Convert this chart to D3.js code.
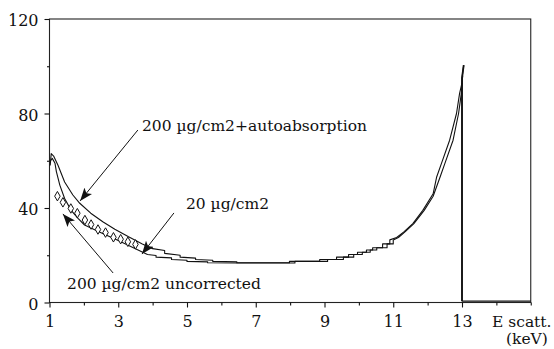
<!DOCTYPE html>
<html><head><meta charset="utf-8">
<script src="https://cdn.jsdelivr.net/npm/d3@7"></script>
<style>
html,body{margin:0;padding:0;background:#fff;}
svg{display:block;}
text{font-family:"DejaVu Serif",serif;fill:#111;}
</style></head>
<body>
<svg id="chart" width="554" height="349"></svg>
<script>
// ---- data ----
const xMajorTicks = [1, 3, 5, 7, 9, 11, 13];
const xMinorTicks = [2, 4, 6, 8, 10, 12, 14, 15];
const yMajorTicks = [0, 40, 80, 120];
const yMinorTicks = [20, 60, 100];

// 200 µg/cm2 + autoabsorption (upper line)
const autoX = [1.02,1.05,1.12,1.25,1.44,1.68,1.88,2.2,2.55,2.9,3.3,3.7,4.0,4.35,4.35,4.8,4.8,5.25,5.25,5.75,5.75,6.45,6.45,7.98,7.98,8.86,8.86,9.35,9.35,9.7,9.7,9.96,9.96,10.22,10.22,10.4,10.4,10.69,10.69,10.9,10.9,11.1,11.3,11.57,11.86,12.16,12.26,12.4,12.64,12.84,12.93,13.0];
const autoY = [58,63,62,58,51,45.5,42,37.8,34.2,31,27.8,24.8,22.8,22.0,20.8,20.0,19.2,18.8,18.2,17.9,17.4,17.2,16.8,16.8,17.4,17.4,18.2,18.2,19.2,19.2,20.3,20.3,21.3,21.3,22.2,22.2,23.2,23.2,24.8,24.8,26.5,27.5,29.8,33.4,39,46,53,58.8,68.7,80,88.5,93];

// 200 µg/cm2 uncorrected (lower line)
const uncX = [1.03,1.08,1.16,1.2,1.3,1.44,1.63,1.83,2.02,2.5,3.0,3.5,3.85,4.1,4.1,4.55,4.55,5.0,5.0,5.6,5.6,6.45,8.14,8.14,9.09,9.09,9.55,9.55,9.85,9.85,10.1,10.1,10.33,10.33,10.52,10.52,10.82,10.82,11.0,11.0,11.15,11.35,11.6,11.9,12.16,12.36,12.5,12.74,12.9,12.98,13.02];
const uncY = [60,61,58.9,55.4,49.7,44,39,35.6,32.8,29.5,26.2,22.8,20.3,19.9,19.2,18.9,18.2,17.9,17.4,17.2,16.8,16.7,16.7,17.4,17.4,18.2,18.2,19.2,19.2,20.3,20.3,21.3,21.3,22.2,22.2,23.2,23.2,24.8,24.8,26.5,27.5,30,33.4,39,45,53,58.8,68.7,80,88.5,96];

// 20 µg/cm2 (open diamonds)
const thinX = [1.23,1.39,1.62,1.81,2.03,2.21,2.41,2.63,2.86,3.07,3.28,3.5];
const thinY = [45,42.4,39.8,37.8,34.9,33,30.9,29.6,27.6,26.8,25.7,24.6];

// absorption edge line
const edgeX = [13.05, 13.0, 13.0, 15.0];
const edgeY = [100.5, 95, 0.6, 0.6];

// annotations
const annLabels = ["200 \u00b5g/cm2+autoabsorption", "20 \u00b5g/cm2", "200 \u00b5g/cm2 uncorrected"];
const annTextX = [3.69, 4.97, 1.51];
const annTextY = [72.6, 39.5, 5.7];
const annTailX = [3.57, 4.62, 2.85];
const annTailY = [73, 37.9, 12.5];
const annTipX = [1.89, 3.69, 1.39];
const annTipY = [43, 20.5, 37.5];

const xTitle1 = "E scatt.";
const xTitle2 = "(keV)";

// ---- drawing ----
const svg = d3.select("#chart");
const x = d3.scaleLinear().domain([1, 15]).range([49.5, 530.75]);
const y = d3.scaleLinear().domain([0, 120]).range([302.5, 19]);
const ink = "#111";

// frame
svg.append("rect")
  .attr("x", x(1)).attr("y", y(120))
  .attr("width", x(15) - x(1)).attr("height", y(0) - y(120))
  .attr("fill", "none").attr("stroke", "#222").attr("stroke-width", 1.1);

// axes
function styleAxis(g){ g.select(".domain").remove(); g.selectAll("line").attr("stroke", ink).attr("stroke-width",1.1); g.selectAll("text").attr("font-family","DejaVu Serif").attr("font-size",16).attr("fill",ink); }

svg.append("g").attr("transform", `translate(0,${y(0)})`)
  .call(d3.axisBottom(x).tickValues(xMajorTicks).tickSize(5).tickPadding(8).tickFormat(d3.format("d")))
  .call(styleAxis);
svg.append("g").attr("transform", `translate(0,${y(0)})`)
  .call(d3.axisBottom(x).tickValues(xMinorTicks).tickSize(3).tickFormat(""))
  .call(styleAxis);
svg.append("g").attr("transform", `translate(${x(1)},0)`)
  .call(d3.axisLeft(y).tickValues(yMajorTicks).tickSize(5).tickPadding(6).tickFormat(d3.format("d")))
  .call(styleAxis)
  .selectAll("text").attr("dy", "0.42em");
svg.append("g").attr("transform", `translate(${x(1)},0)`)
  .call(d3.axisLeft(y).tickValues(yMinorTicks).tickSize(2.5).tickFormat(""))
  .call(styleAxis);

// x title
svg.append("text").attr("x", 492).attr("y", 327).attr("font-size", 15.5).text(xTitle1);
svg.append("text").attr("x", 506).attr("y", 344).attr("font-size", 15.5).text(xTitle2);

// lines
const line = d3.line().x(d => x(d[0])).y(d => y(d[1])).curve(d3.curveLinear);
const series = [ d3.zip(autoX, autoY), d3.zip(uncX, uncY), d3.zip(edgeX, edgeY) ];
svg.selectAll("path.series").data(series).join("path")
  .attr("class", "series")
  .attr("d", line)
  .attr("fill", "none").attr("stroke", ink).attr("stroke-width", 1.1).attr("stroke-linejoin","round");

// edge line heavier
svg.append("path").attr("d", line(d3.zip(edgeX.slice(0,3), edgeY.slice(0,3))))
  .attr("fill","none").attr("stroke", ink).attr("stroke-width", 1.8);

// diamonds
const diamond = d3.symbol().type(d3.symbolDiamond).size(26);
svg.selectAll("path.pt").data(d3.zip(thinX, thinY)).join("path")
  .attr("class","pt")
  .attr("transform", d => `translate(${x(d[0])},${y(d[1])})`)
  .attr("d", diamond)
  .attr("fill", "#fff").attr("stroke", ink).attr("stroke-width", 1);

// arrow marker
svg.append("defs").append("marker")
  .attr("id", "arr").attr("markerUnits", "userSpaceOnUse")
  .attr("markerWidth", 14).attr("markerHeight", 10)
  .attr("refX", 13).attr("refY", 5).attr("orient", "auto")
  .append("path").attr("d", "M0,0 L13,5 L0,10 L3,5 Z").attr("fill", ink);

// annotations
annLabels.forEach((lab, i) => {
  svg.append("line")
    .attr("x1", x(annTailX[i])).attr("y1", y(annTailY[i]))
    .attr("x2", x(annTipX[i])).attr("y2", y(annTipY[i]))
    .attr("stroke", ink).attr("stroke-width", 1)
    .attr("marker-end", "url(#arr)");
  svg.append("text")
    .attr("x", x(annTextX[i])).attr("y", y(annTextY[i]))
    .attr("font-size", 15.5)
    .text(lab);
});
</script>
</body></html>
